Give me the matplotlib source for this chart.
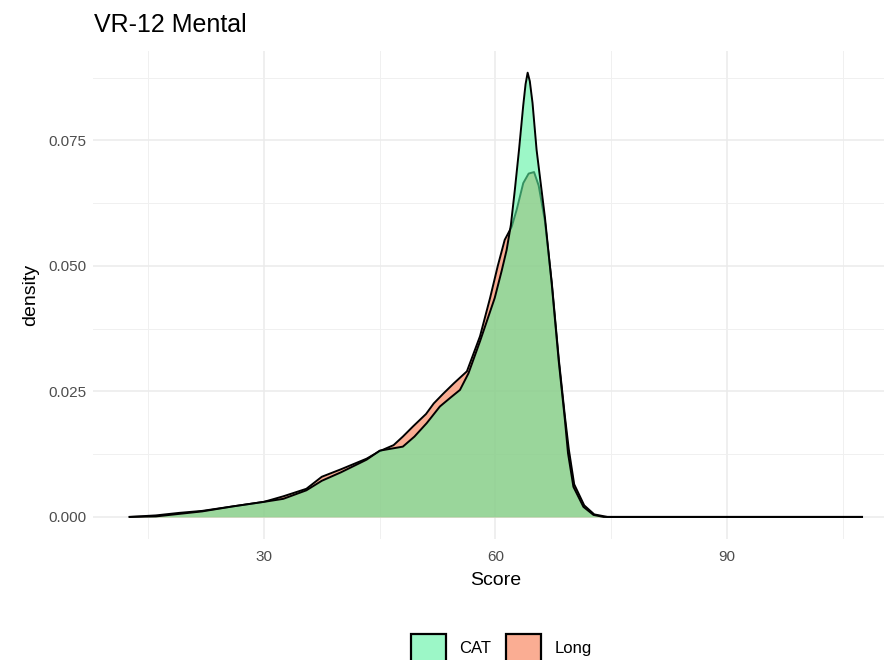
import matplotlib
matplotlib.use("Agg")
import matplotlib.pyplot as plt
from matplotlib.patches import Patch
from matplotlib.colors import to_rgba
from matplotlib.ticker import FixedLocator

plt.rcParams['font.family'] = ['Liberation Sans', 'DejaVu Sans']

title = "VR-12 Mental"
series_names = ["CAT", "Long"]

cat_x = [12.6, 16, 19, 22, 26, 30, 32.5, 35.5, 37.5, 40, 43.3, 45, 46.5, 48, 49.5,
         51.1, 52.8, 54.2, 55.4, 56.5, 58, 59.9, 60.8, 61.45, 62.0, 62.5, 63.05, 63.6,
         63.9, 64.17, 64.45, 64.8, 65.33, 65.9, 66.4, 67.28, 68.2, 69.0, 69.4, 70.1,
         71.4, 72.7, 74, 107.5]
cat_d = [0, 0.0001, 0.0006, 0.0011, 0.0021, 0.0030, 0.0036, 0.0053, 0.0072, 0.0089,
         0.0114, 0.0132, 0.0136, 0.0140, 0.0160, 0.0187, 0.0220, 0.0238, 0.0253, 0.0286,
         0.0350, 0.0436, 0.0490, 0.0532, 0.0582, 0.0650, 0.0731, 0.0820, 0.0862, 0.0885,
         0.0868, 0.0825, 0.0731, 0.0660, 0.0598, 0.0466, 0.0310, 0.0193, 0.0127, 0.0060,
         0.0020, 0.0004, 0.0, 0.0]

long_x = [12.6, 16, 19, 22, 26, 30, 32.5, 35.5, 37.5, 40, 43.3, 45, 46.8, 48, 49.3,
          51.0, 52.0, 53.2, 54.6, 56.3, 58, 59.3, 60.3, 61.2, 62.1, 62.75, 63.6, 64.3,
          65.0, 65.6, 66.4, 67.3, 68.2, 69.0, 69.5, 70.2, 71.5, 72.8, 74.5, 107.5]
long_d = [0, 0.0003, 0.0008, 0.0012, 0.0021, 0.0030, 0.0041, 0.0056, 0.0080, 0.0095,
          0.0116, 0.0131, 0.0143, 0.0160, 0.0180, 0.0205, 0.0226, 0.0245, 0.0266, 0.0290,
          0.0360, 0.0436, 0.0500, 0.0552, 0.0578, 0.0612, 0.0665, 0.0684, 0.0687, 0.0660,
          0.0590, 0.0466, 0.0315, 0.0200, 0.0135, 0.0065, 0.0023, 0.0005, 0.0, 0.0]

x_ticks = [30, 60, 90]
y_ticks = [0.000, 0.025, 0.050, 0.075]
y_tick_labels = ["0.000", "0.025", "0.050", "0.075"]

cat_color = "#5BF2A2"
long_color = "#F8774C"
alpha = 0.6

fig = plt.figure(figsize=(8.84, 6.6), dpi=100)
left = 93 / 884
right = 898.7 / 884
top = 1 - 50.6 / 660
bottom = 1 - 539 / 660
ax = fig.add_axes([left, bottom, right - left, top - bottom])

# Long first, CAT on top
ax.fill_between(long_x, long_d, 0, color=long_color, alpha=alpha, linewidth=0, zorder=2)
ax.plot(long_x, long_d, color="black", lw=1.4, zorder=3, solid_joinstyle='round')
ax.fill_between(cat_x, cat_d, 0, color=cat_color, alpha=alpha, linewidth=0, zorder=4)
ax.plot(cat_x, cat_d, color="black", lw=1.4, zorder=5, solid_joinstyle='round')

ax.set_xlim(7.85, 112.25)
ax.set_ylim(-0.0044, 0.0929)

ax.xaxis.set_major_locator(FixedLocator(x_ticks))
ax.xaxis.set_minor_locator(FixedLocator([15, 45, 75, 105]))
ax.yaxis.set_major_locator(FixedLocator(y_ticks))
ax.yaxis.set_minor_locator(FixedLocator([0.0125, 0.0375, 0.0625, 0.0875]))
ax.set_xticklabels([str(t) for t in x_ticks])
ax.set_yticklabels(y_tick_labels)

ax.grid(which='major', color='#EBEBEB', lw=1.1, zorder=0)
ax.grid(which='minor', color='#F0F0F0', lw=0.7, zorder=0)
ax.set_axisbelow(True)
for s in ax.spines.values():
    s.set_visible(False)
ax.tick_params(which='both', length=0)
ax.tick_params(axis='x', labelsize=11, labelcolor='#4D4D4D', pad=8)
ax.tick_params(axis='y', labelsize=11, labelcolor='#4D4D4D', pad=5)

ax.set_xlabel("Score", fontsize=14, color='black', labelpad=6)
ax.set_ylabel("density", fontsize=14, color='black', labelpad=6)

fig.text(left + 1 / 884, 1 - 25 / 660, title, fontsize=18, ha='left', va='center', color='black')

handles = [Patch(facecolor=to_rgba(cat_color, alpha), edgecolor='black', linewidth=1.6),
           Patch(facecolor=to_rgba(long_color, alpha), edgecolor='black', linewidth=1.6)]
leg = fig.legend(handles, series_names, loc='center', bbox_to_anchor=(501 / 884, 1 - 648 / 660),
                 ncol=2, frameon=False, fontsize=12, handlelength=2.1, handleheight=2.2,
                 handletextpad=0.8, columnspacing=0.9)

fig.savefig("out.png", dpi=100)
